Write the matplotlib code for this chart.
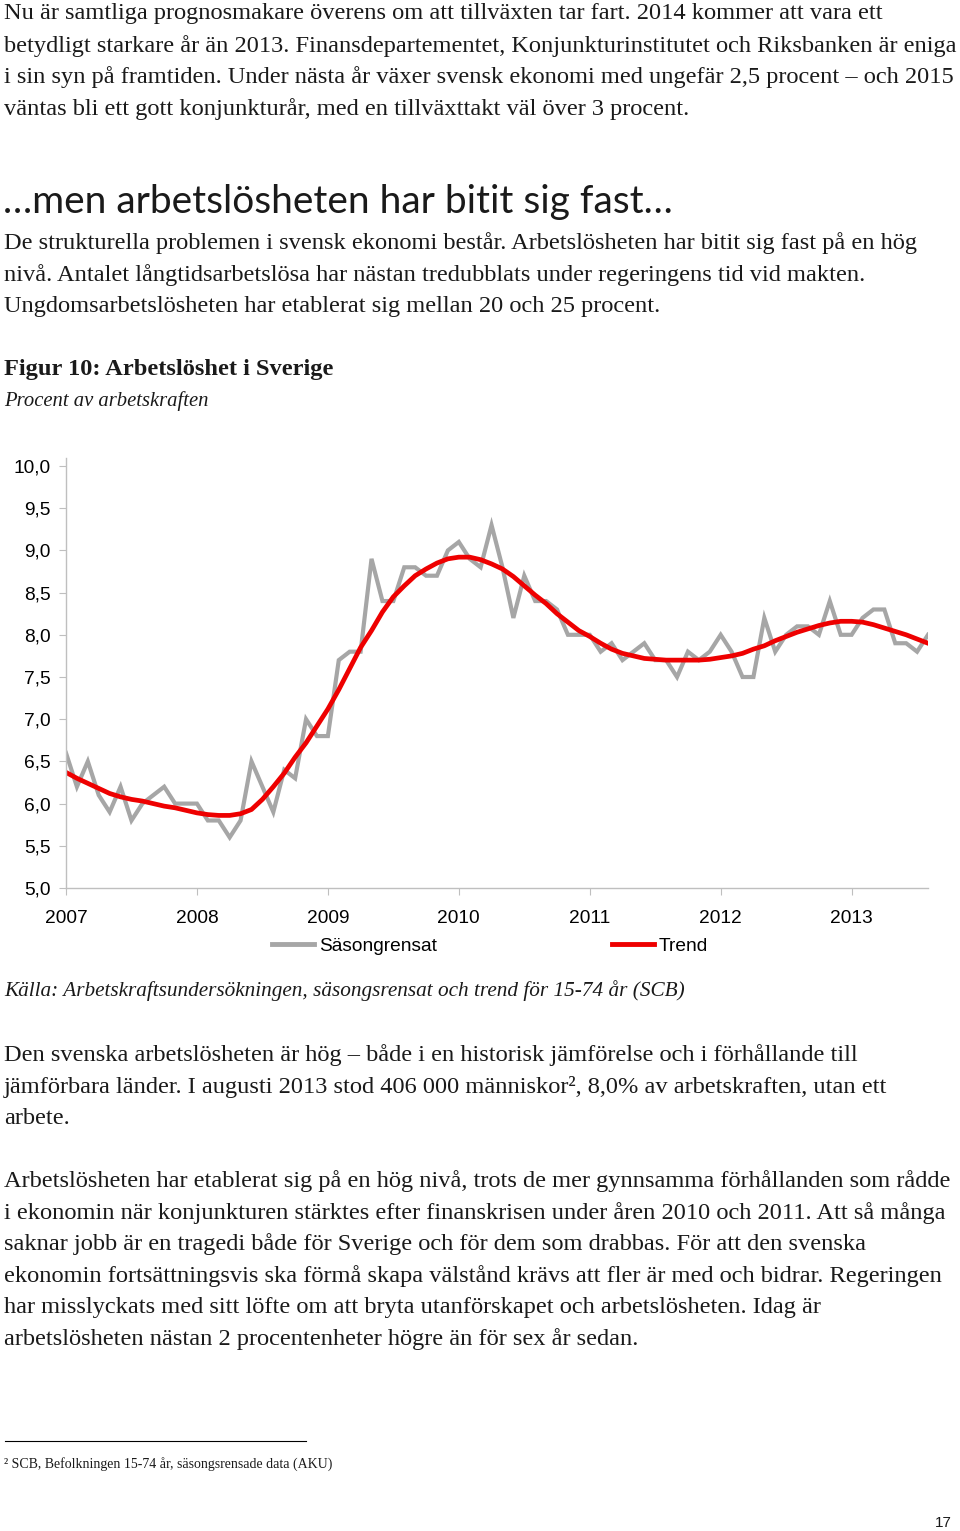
import numpy as np
import matplotlib
matplotlib.use("Agg")
import matplotlib.pyplot as plt
from matplotlib.lines import Line2D

# Arbetslöshet, månadsdata jan 2007 - aug 2013 (procent av arbetskraften)
sasongrensat = [6.6, 6.2, 6.5, 6.1, 5.9, 6.2, 5.8, 6.0, 6.1, 6.2, 6.0, 6.0,
                6.0, 5.8, 5.8, 5.6, 5.8, 6.5, 6.2, 5.9, 6.4, 6.3, 7.0, 6.8,
                6.8, 7.7, 7.8, 7.8, 8.9, 8.4, 8.4, 8.8, 8.8, 8.7, 8.7, 9.0,
                9.1, 8.9, 8.8, 9.3, 8.8, 8.2, 8.7, 8.4, 8.4, 8.3, 8.0, 8.0,
                8.0, 7.8, 7.9, 7.7, 7.8, 7.9, 7.7, 7.7, 7.5, 7.8, 7.7, 7.8,
                8.0, 7.8, 7.5, 7.5, 8.2, 7.8, 8.0, 8.1, 8.1, 8.0, 8.4, 8.0,
                8.0, 8.2, 8.3, 8.3, 7.9, 7.9, 7.8, 8.0]
trend = [6.37, 6.30, 6.24, 6.18, 6.12, 6.08, 6.05, 6.03, 6.00, 5.97, 5.95, 5.92,
         5.89, 5.87, 5.86, 5.86, 5.88, 5.93, 6.05, 6.20, 6.36, 6.55, 6.72, 6.92,
         7.12, 7.35, 7.60, 7.85, 8.05, 8.27, 8.45, 8.58, 8.70, 8.78, 8.85, 8.90,
         8.92, 8.92, 8.89, 8.84, 8.78, 8.69, 8.58, 8.47, 8.37, 8.25, 8.15, 8.05,
         7.98, 7.90, 7.83, 7.78, 7.75, 7.72, 7.71, 7.70, 7.70, 7.70, 7.70, 7.71,
         7.73, 7.75, 7.78, 7.83, 7.87, 7.93, 7.98, 8.03, 8.07, 8.11, 8.14, 8.16,
         8.16, 8.15, 8.12, 8.08, 8.04, 8.00, 7.95, 7.90]
years = ["2007", "2008", "2009", "2010", "2011", "2012", "2013"]
yticks = [5.0, 5.5, 6.0, 6.5, 7.0, 7.5, 8.0, 8.5, 9.0, 9.5, 10.0]

para1 = ["Nu är samtliga prognosmakare överens om att tillväxten tar fart. 2014 kommer att vara ett",
         "betydligt starkare år än 2013. Finansdepartementet, Konjunkturinstitutet och Riksbanken är eniga",
         "i sin syn på framtiden. Under nästa år växer svensk ekonomi med ungefär 2,5 procent – och 2015",
         "väntas bli ett gott konjunkturår, med en tillväxttakt väl över 3 procent."]
heading = "…men arbetslösheten har bitit sig fast…"
para2 = ["De strukturella problemen i svensk ekonomi består. Arbetslösheten har bitit sig fast på en hög",
         "nivå. Antalet långtidsarbetslösa har nästan tredubblats under regeringens tid vid makten.",
         "Ungdomsarbetslösheten har etablerat sig mellan 20 och 25 procent."]
fig_title = "Figur 10: Arbetslöshet i Sverige"
fig_sub = "Procent av arbetskraften"
source = "Källa: Arbetskraftsundersökningen, säsongsrensat och trend för 15-74 år (SCB)"
para3 = ["Den svenska arbetslösheten är hög – både i en historisk jämförelse och i förhållande till",
         "jämförbara länder. I augusti 2013 stod 406 000 människor², 8,0% av arbetskraften, utan ett",
         "arbete."]
para4 = ["Arbetslösheten har etablerat sig på en hög nivå, trots de mer gynnsamma förhållanden som rådde",
         "i ekonomin när konjunkturen stärktes efter finanskrisen under åren 2010 och 2011. Att så många",
         "saknar jobb är en tragedi både för Sverige och för dem som drabbas. För att den svenska",
         "ekonomin fortsättningsvis ska förmå skapa välstånd krävs att fler är med och bidrar. Regeringen",
         "har misslyckats med sitt löfte om att bryta utanförskapet och arbetslösheten. Idag är",
         "arbetslösheten nästan 2 procentenheter högre än för sex år sedan."]
footnote = "² SCB, Befolkningen 15-74 år, säsongsrensade data (AKU)"

W, H = 960, 1531
fig = plt.figure(figsize=(W / 100, H / 100), dpi=100)
fig.patch.set_facecolor("white")

serif = "Liberation Serif"
sans = "Liberation Sans"
textcol = "#1a1a1a"


def put(x, y, s, **kw):
    # x, y in pixels from top-left
    kw.setdefault("family", serif)
    kw.setdefault("color", textcol)
    kw.setdefault("va", "center")
    fig.text(x / W, 1 - y / H, s, **kw)


def block(lines, y0, size=17.6, step=31.6):
    for i, s in enumerate(lines):
        put(4, y0 + i * step, s, fontsize=size)


block(para1, 14)
put(3, 202, heading, family="Lato", fontsize=28)
block(para2, 243)
put(4, 369, fig_title, fontsize=17.6, weight="bold")
put(4, 401, fig_sub, fontsize=14.9, style="italic")
put(4, 991, source, fontsize=15.3, style="italic")
block(para3, 1055)
block(para4, 1181)
put(4, 1464, footnote, fontsize=10)
put(960 - 8, 1523, "17", family=sans, fontsize=11, ha="right")
fig.add_artist(Line2D([5 / W, 306 / W], [1 - 1441 / H] * 2, color="black", lw=0.8))

# diagram
left, right, top, bottom = 66, 928, 466, 888
ax = fig.add_axes([left / W, 1 - bottom / H, (right - left) / W, (bottom - top) / H])
x = np.arange(len(sasongrensat))
ax.plot(x, sasongrensat, color="#a6a6a6", lw=3.0, solid_joinstyle="miter")
ax.plot(x, trend, color="#ee0000", lw=3.4)
ax.set_xlim(0, len(x) - 1)
ax.set_ylim(5, 10)
ax.set_yticks(yticks)
ax.set_yticklabels([f"{v:.1f}".replace(".", ",") for v in yticks],
                   family=sans, fontsize=13.8, color="black")
ax.set_xticks(np.arange(len(years)) * 12)
ax.set_xticklabels(years, family=sans, fontsize=13.8, color="black")
for s in ["top", "right"]:
    ax.spines[s].set_visible(False)
for s in ["left", "bottom"]:
    ax.spines[s].set_color("#bfbfbf")
    ax.spines[s].set_linewidth(1.0)
ax.spines["left"].set_bounds(5, 10.1)
ax.tick_params(axis="y", length=5, color="#bfbfbf", pad=6)
ax.tick_params(axis="x", length=5, color="#bfbfbf", pad=11)
ax.patch.set_alpha(0)

handles = [Line2D([], [], color="#a6a6a6", lw=3.5), Line2D([], [], color="#ee0000", lw=3.5)]
fig.legend(handles, ["Säsongrensat", "Trend"], loc="center", bbox_to_anchor=(490 / W, 1 - 946 / H),
           ncol=2, frameon=False, handlelength=2.2, handletextpad=0.25, columnspacing=9.1,
           borderpad=0, prop={"family": sans, "size": 13.8})

fig.savefig("out.png", dpi=100)
